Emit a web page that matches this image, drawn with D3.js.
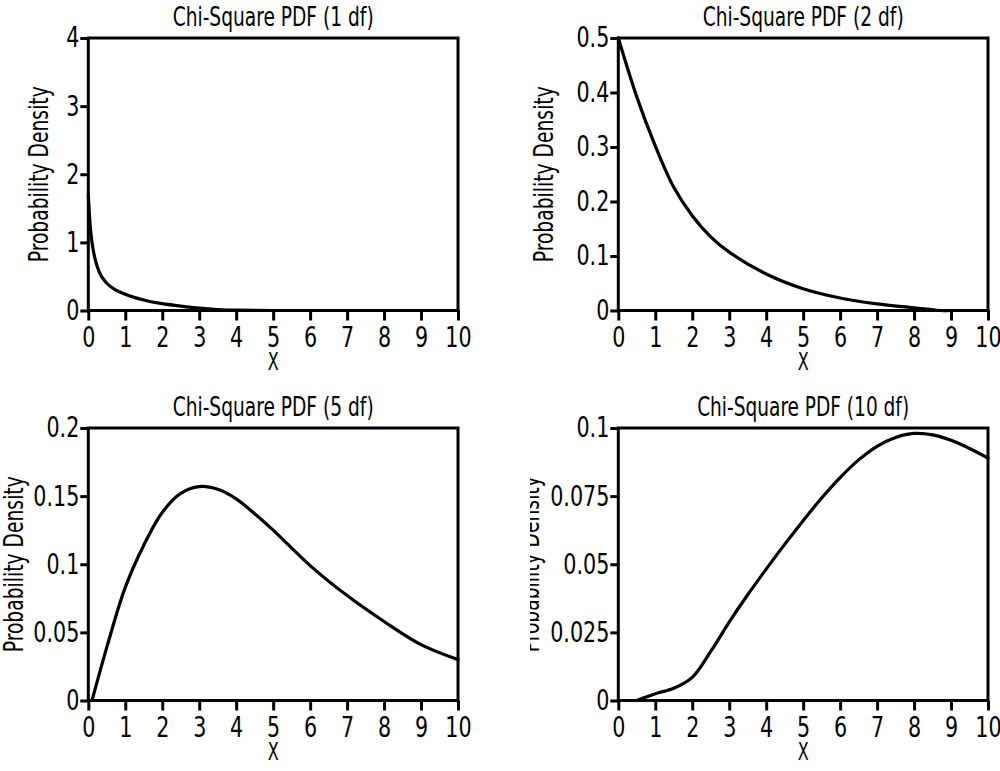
<!DOCTYPE html>
<html>
<head>
<meta charset="utf-8">
<script src="https://cdn.jsdelivr.net/npm/d3@7"></script>
<style>
  html, body { margin: 0; padding: 0; background: #fff; }
  svg text { font-family: "Liberation Sans Narrow", "DejaVu Sans Condensed", "Open Sans", sans-serif; fill: #000; }
</style>
</head>
<body>
<svg id="chart" width="1000" height="771"></svg>
<script>
// ---------- data ----------
const titles = ["Chi-Square PDF (1 df)", "Chi-Square PDF (2 df)", "Chi-Square PDF (5 df)", "Chi-Square PDF (10 df)"];
const xAxisLabel = "X";
const yAxisLabel = "Probability Density";
const xTicks = [0, 1, 2, 3, 4, 5, 6, 7, 8, 9, 10];
const xTickLabels = ["0", "1", "2", "3", "4", "5", "6", "7", "8", "9", "10"];

const yTicks1 = [0, 1, 2, 3, 4];
const yTickLabels1 = ["0", "1", "2", "3", "4"];
const yTicks2 = [0, 0.1, 0.2, 0.3, 0.4, 0.5];
const yTickLabels2 = ["0", "0.1", "0.2", "0.3", "0.4", "0.5"];
const yTicks5 = [0, 0.05, 0.1, 0.15, 0.2];
const yTickLabels5 = ["0", "0.05", "0.1", "0.15", "0.2"];
const yTicks10 = [0, 0.025, 0.05, 0.075, 0.1];
const yTickLabels10 = ["0", "0.025", "0.05", "0.075", "0.1"];

const x1 = [0, 0.05, 0.1, 0.2, 0.3, 0.5, 0.75, 1, 1.5, 2, 2.5, 3, 3.5, 4, 5, 6, 7, 8, 9, 10];
const y1 = [1.70, 1.25, 1.0, 0.72, 0.56, 0.40, 0.30, 0.24, 0.155, 0.10, 0.065, 0.035, 0.015, 0.005, 0, 0, 0, 0, 0, 0];

const x2 = [0, 0.5, 1, 1.5, 2, 2.5, 3, 4, 5, 6, 7, 8, 8.7, 9, 10];
const y2 = [0.5, 0.392, 0.302, 0.226, 0.174, 0.135, 0.107, 0.067, 0.040, 0.023, 0.012, 0.005, 0, 0, 0];

const x5 = [0.1, 0.5, 1, 1.5, 2, 2.5, 3, 3.5, 4, 4.5, 5, 6, 7, 8, 9, 10];
const y5 = [0, 0.039, 0.083, 0.114, 0.138, 0.152, 0.157, 0.155, 0.148, 0.137, 0.125, 0.099, 0.077, 0.058, 0.041, 0.030];

const x10 = [0.5, 1, 1.5, 2, 2.5, 3, 3.5, 4, 4.5, 5, 5.5, 6, 6.5, 7, 7.5, 8, 8.5, 9, 9.5, 10];
const y10 = [0, 0.0025, 0.0045, 0.0085, 0.018, 0.0288, 0.0388, 0.0482, 0.0573, 0.066, 0.0743, 0.0818, 0.0883, 0.0933, 0.0965, 0.098, 0.0975, 0.0955, 0.0925, 0.089];

// ---------- layout ----------
const panels = [
  { ox: 0,   oy: 0,   xs: x1,  ys: y1,  yTicks: yTicks1,  yLabels: yTickLabels1,  yMax: 4,   title: titles[0], labX: 48, cw: 500, monotone: true },
  { ox: 530, oy: 0,   xs: x2,  ys: y2,  yTicks: yTicks2,  yLabels: yTickLabels2,  yMax: 0.5, title: titles[1], labX: 23, cw: 470, monotone: false },
  { ox: 0,   oy: 390, xs: x5,  ys: y5,  yTicks: yTicks5,  yLabels: yTickLabels5,  yMax: 0.2, title: titles[2], labX: 23, cw: 500, monotone: false },
  { ox: 530, oy: 390, xs: x10, ys: y10, yTicks: yTicks10, yLabels: yTickLabels10, yMax: 0.1, title: titles[3], labX: 9,  cw: 470, monotone: false }
];
const plotL = 88.3, plotR = 458, plotT = 38, plotB = 310.5;
const fontSize = 26;
const tickFont = 28;
const tickSqueeze = 0.82;

const svg = d3.select("#chart");
const defs = svg.append("defs");

panels.forEach((p, i) => {
  defs.append("clipPath").attr("id", "clip" + i)
    .append("rect").attr("x", 0).attr("y", 0).attr("width", p.cw).attr("height", 381);

  const g = svg.append("g").attr("transform", `translate(${p.ox},${p.oy})`)
    .append("g").attr("clip-path", `url(#clip${i})`);

  const x = d3.scaleLinear().domain([0, 10]).range([plotL, plotR]);
  const y = d3.scaleLinear().domain([0, p.yMax]).range([plotB, plotT]);

  // x axis
  const xa = g.append("g").attr("transform", `translate(0,${plotB})`)
    .call(d3.axisBottom(x).tickValues(xTicks).tickFormat((d, k) => xTickLabels[k]).tickSize(10).tickSizeOuter(0).tickPadding(7));
  xa.select(".domain").remove();
  xa.selectAll("line").attr("stroke", "#000").attr("stroke-width", 3);
  xa.selectAll("text").attr("font-size", tickFont).attr("fill", "#000").attr("dy", "0.71em")
    .attr("transform", `scale(${tickSqueeze},1)`);

  // y axis
  const ya = g.append("g").attr("transform", `translate(${plotL},0)`)
    .call(d3.axisLeft(y).tickValues(p.yTicks).tickFormat((d, k) => p.yLabels[k]).tickSize(8).tickSizeOuter(0).tickPadding(1));
  ya.select(".domain").remove();
  ya.selectAll("line").attr("stroke", "#000").attr("stroke-width", 3);
  ya.selectAll("text").attr("font-size", tickFont).attr("fill", "#000")
    .attr("x", -9 / tickSqueeze).attr("transform", `scale(${tickSqueeze},1)`);

  // frame
  g.append("rect").attr("x", plotL).attr("y", plotT)
    .attr("width", plotR - plotL).attr("height", plotB - plotT)
    .attr("fill", "none").attr("stroke", "#000").attr("stroke-width", 3);

  // curve
  const pts = p.xs.map((v, k) => [v, p.ys[k]]);
  g.append("path").datum(pts)
    .attr("fill", "none").attr("stroke", "#000").attr("stroke-width", 3.2)
    .attr("stroke-linejoin", "round").attr("stroke-linecap", "round")
    .attr("d", d3.line().x(d => x(d[0])).y(d => y(d[1]))
      .curve(p.monotone ? d3.curveMonotoneX : d3.curveCatmullRom.alpha(0.5)));

  // title
  g.append("text").attr("x", (plotL + plotR) / 2).attr("y", 26)
    .attr("text-anchor", "middle").attr("font-size", fontSize)
    .attr("textLength", i === 3 ? 212 : 201).attr("lengthAdjust", "spacingAndGlyphs")
    .text(p.title);

  // x label
  g.append("text").attr("x", (plotL + plotR) / 2).attr("y", plotB + 59)
    .attr("text-anchor", "middle").attr("font-size", 25)
    .attr("textLength", 11).attr("lengthAdjust", "spacingAndGlyphs")
    .text(xAxisLabel);

  // y label
  g.append("text").attr("transform", `translate(${p.labX},${(plotT + plotB) / 2}) rotate(-90)`)
    .attr("text-anchor", "middle").attr("font-size", fontSize)
    .attr("textLength", 176).attr("lengthAdjust", "spacingAndGlyphs")
    .text(yAxisLabel);
});
</script>
</body>
</html>
